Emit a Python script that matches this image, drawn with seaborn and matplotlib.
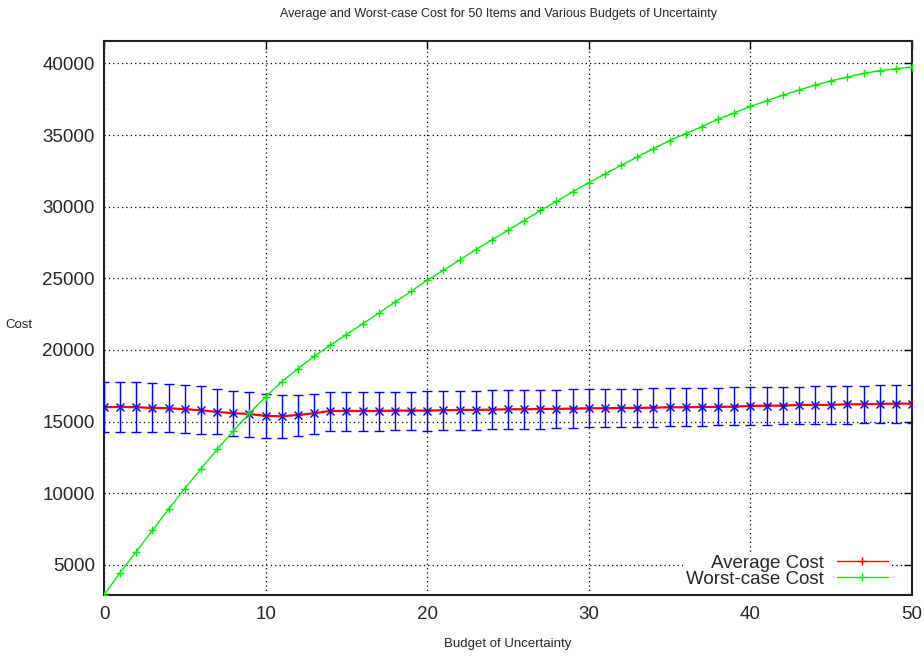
import numpy as np
import pandas as pd
import matplotlib
matplotlib.use("Agg")
import matplotlib.pyplot as plt
import seaborn as sns

# Budget of uncertainty (x axis)
budget = list(range(0, 51))

# Worst-case cost for each budget
worst_cost = [2900, 4463, 5935, 7407, 8902, 10327, 11706, 13061, 14346, 15584,
              16729, 17780, 18700, 19550, 20330, 21074, 21820, 22567, 23337, 24084,
              24877, 25554, 26278, 27001, 27678, 28355, 29032, 29732, 30362, 31039,
              31669, 32276, 32883, 33466, 34050, 34610, 35100, 35590, 36103, 36547,
              36990, 37387, 37783, 38133, 38483, 38786, 39043, 39300, 39487, 39627,
              39743]

# Average cost with its lower / upper spread
avg_cost = [16005, 16028, 16005, 15958, 15935, 15864, 15794, 15678, 15584, 15537,
            15397, 15370, 15466, 15582, 15745, 15745, 15745, 15745, 15768, 15768,
            15768, 15791, 15815, 15815, 15838, 15861, 15861, 15885, 15885, 15908,
            15931, 15931, 15954, 15954, 15978, 16001, 16001, 16024, 16024, 16047,
            16094, 16117, 16117, 16164, 16164, 16164, 16210, 16210, 16234, 16257,
            16257]
avg_low = [14299, 14299, 14299, 14276, 14252, 14182, 14135, 14112, 13995, 13949,
           13855, 13880, 14000, 14162, 14348, 14371, 14371, 14371, 14395, 14395,
           14371, 14418, 14441, 14441, 14488, 14488, 14511, 14511, 14535, 14558,
           14604, 14604, 14628, 14628, 14651, 14697, 14721, 14721, 14744, 14744,
           14767, 14790, 14814, 14837, 14837, 14860, 14860, 14884, 14907, 14930,
           14930]
avg_high = [17734, 17734, 17734, 17664, 17640, 17547, 17477, 17290, 17150, 17079,
            16916, 16846, 16839, 16955, 17072, 17072, 17072, 17072, 17095, 17095,
            17118, 17118, 17141, 17165, 17188, 17211, 17211, 17211, 17235, 17258,
            17305, 17305, 17305, 17305, 17328, 17351, 17351, 17374, 17374, 17398,
            17444, 17444, 17444, 17444, 17467, 17491, 17491, 17514, 17537, 17584,
            17584]

x_ticks = [0, 10, 20, 30, 40, 50]
y_ticks = [5000, 10000, 15000, 20000, 25000, 30000, 35000, 40000]

RED, BLUE, GREEN = "#ff0000", "#0000ff", "#00ee00"

sns.set_style("white")
plt.rcParams["font.family"] = ["Liberation Sans", "DejaVu Sans"]

df = pd.DataFrame({"budget": budget, "worst": worst_cost, "avg": avg_cost,
                   "low": avg_low, "high": avg_high})

W, H = 924, 656
fig = plt.figure(figsize=(W / 100, H / 100), dpi=100)
left, right, top, bottom = 104, 912, 41, 595
ax = fig.add_axes([left / W, 1 - bottom / H, (right - left) / W, (bottom - top) / H])

# Average cost line
sns.lineplot(data=df, x="budget", y="avg", ax=ax, color=RED, linewidth=1.6,
             marker="+", markersize=5.5, markeredgewidth=1.0, markeredgecolor=RED,
             label="Average Cost", zorder=3)

# Spread of the average cost
yerr = np.vstack([df["avg"] - df["low"], df["high"] - df["avg"]])
ax.errorbar(df["budget"], df["avg"], yerr=yerr, fmt="x", color=BLUE,
            ecolor=BLUE, elinewidth=1.0, capsize=3.3, capthick=1.0,
            markersize=5.5, markeredgewidth=1.0, zorder=4)

# Worst-case cost line
sns.lineplot(data=df, x="budget", y="worst", ax=ax, color=GREEN, linewidth=1.0,
             marker="+", markersize=6, markeredgewidth=1.0, markeredgecolor=GREEN,
             label="Worst-case Cost", zorder=5)

ax.set_xlim(0, 50)
ax.set_ylim(2900, 41560)
ax.set_xticks(x_ticks)
ax.set_yticks(y_ticks)
ax.set_xticklabels([str(v) for v in x_ticks])
ax.set_yticklabels([str(v) for v in y_ticks])

ax.grid(True, color="black", linestyle=(0, (1, 2.5)), linewidth=0.9)
ax.set_axisbelow(True)
for s in ax.spines.values():
    s.set_visible(True)
    s.set_color("#222222")
    s.set_linewidth(1.5)

ax.tick_params(axis="both", which="major", direction="in", length=5.5, width=1.0,
               labelsize=13.5, color="black", top=True, right=True)
ax.tick_params(axis="x", pad=8)
ax.tick_params(axis="y", pad=6.5)

ax.set_xlabel("Budget of Uncertainty", fontsize=9.5)
ax.xaxis.label.set_va("center")
ax.xaxis.set_label_coords(0.5, (bottom - 644) / (bottom - top))
ax.set_ylabel("Cost", fontsize=9.5, rotation=0, va="center", ha="center")
ax.yaxis.set_label_coords((19 - left) / (right - left), (bottom - 325) / (bottom - top))

fig.text(499 / W, 1 - 14 / H, "Average and Worst-case Cost for 50 Items and Various Budgets of Uncertainty",
         ha="center", va="center", fontsize=9)

leg = ax.legend(loc="lower right", frameon=True, markerfirst=False, fontsize=13.5,
                handlelength=2.7, handletextpad=0.7, labelspacing=-0.05,
                borderpad=0.15, borderaxespad=0.0, bbox_to_anchor=(0.9735, 0.008),
                fancybox=False, framealpha=1.0, facecolor="white", edgecolor="none")
leg.set_zorder(2.4)
for h in leg.legend_handles:
    h.set_linewidth(1.0)

fig.savefig("out.png", dpi=100)
